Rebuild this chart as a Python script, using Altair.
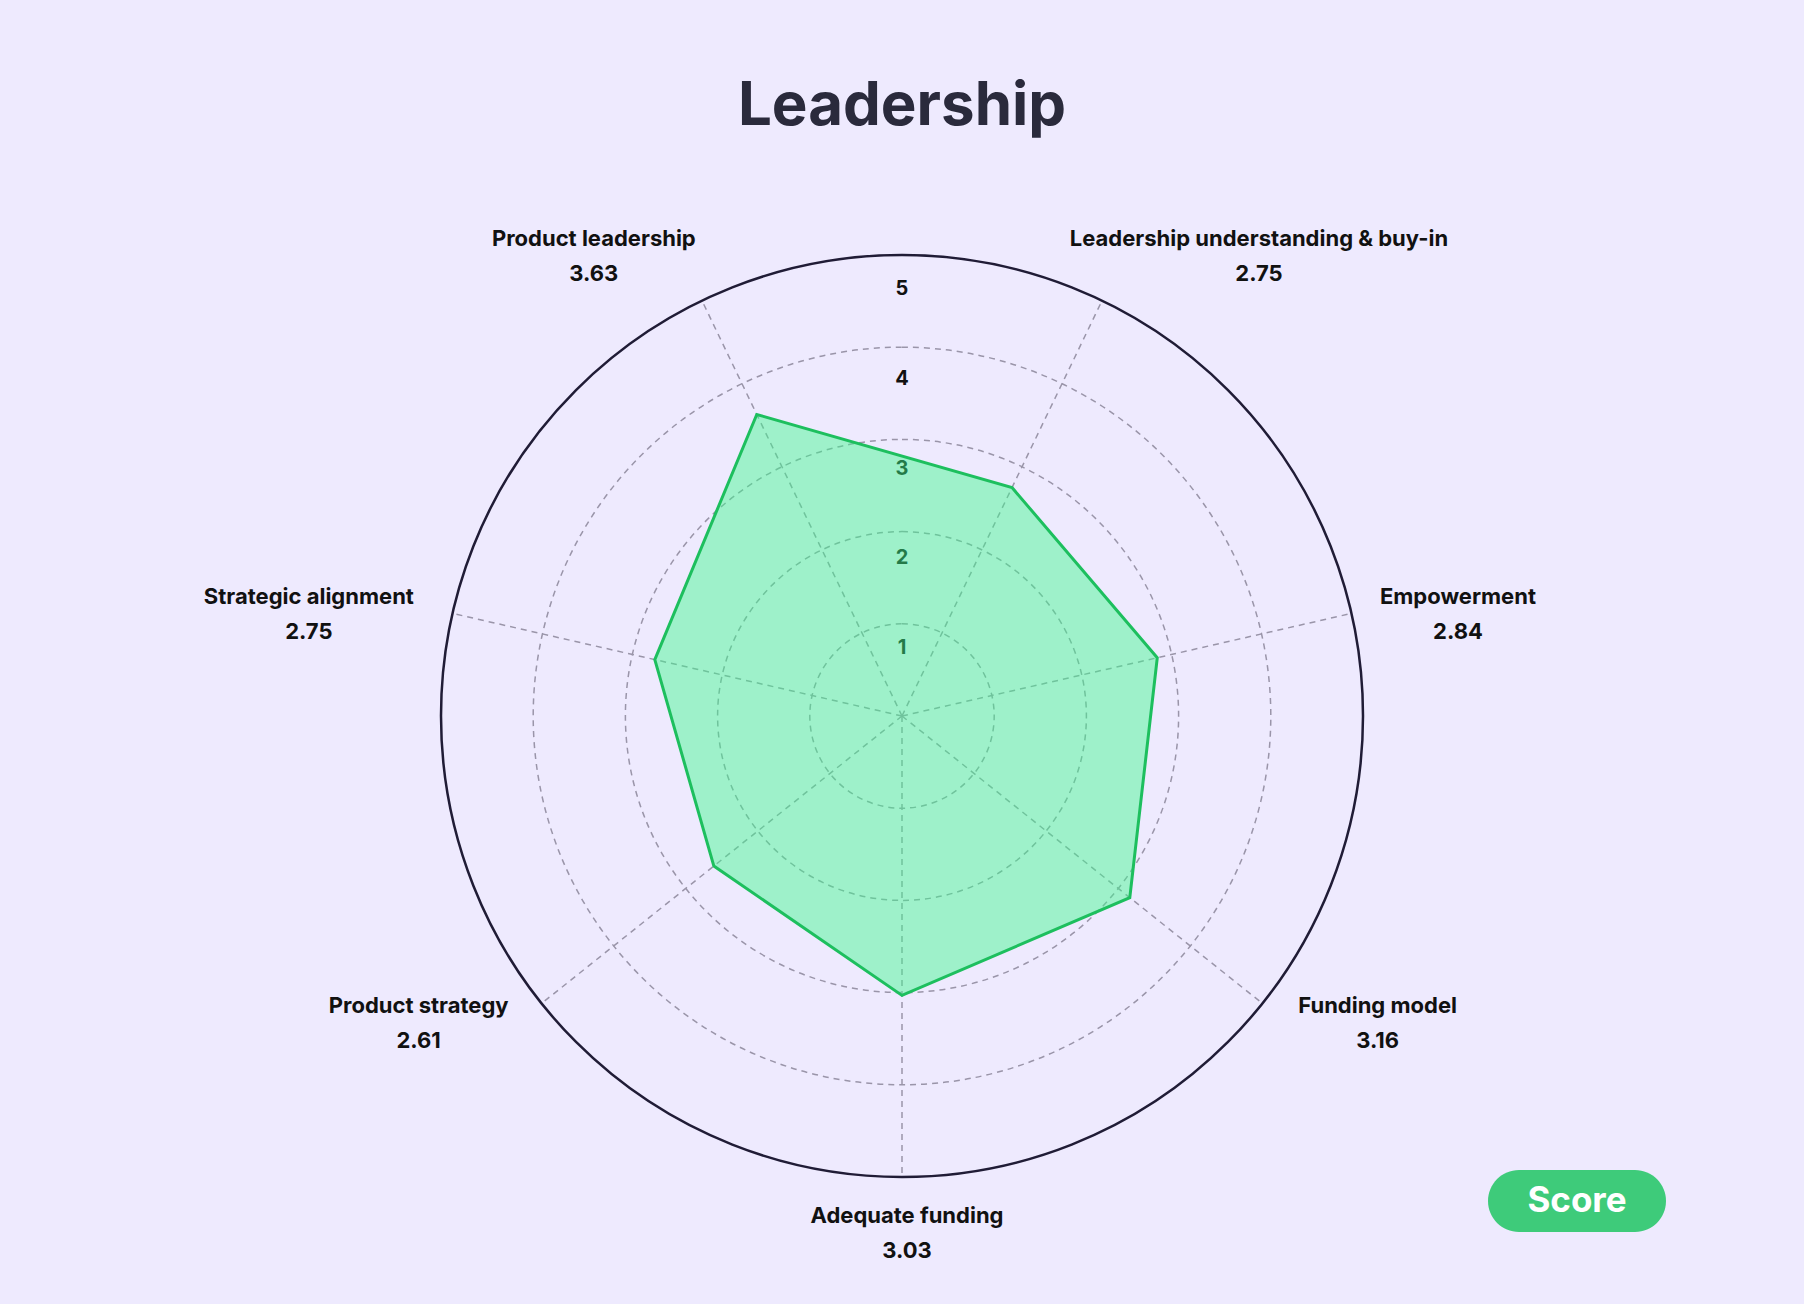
import math
import altair as alt
import pandas as pd

# ---------------- data ----------------
title_text = "Leadership"
categories = [
    "Leadership understanding & buy-in",
    "Empowerment",
    "Funding model",
    "Adequate funding",
    "Product strategy",
    "Strategic alignment",
    "Product leadership",
]
scores = [2.75, 2.84, 3.16, 3.03, 2.61, 2.75, 3.63]
rings = [1, 2, 3, 4, 5]
series = ["Score"]

# ---------------- layout ----------------
R_MAX = 5
PX = 461                 # pixel radius of the outer ring
W = 2 * PX
UNIT = PX / R_MAX        # pixels per score unit
N = len(categories)
PAD_L, PAD_T = 441, 255
PAD_R = 1804 - PAD_L - W
PAD_B = 1304 - PAD_T - W

BG = "#EEEAFE"
GRID = "#9A95A9"
FONT = "Inter"

cat_df = pd.DataFrame({"category": categories, "score": scores, "idx": list(range(N))})
ring_df = pd.DataFrame({"ring": rings})
series_df = pd.DataFrame({"series": series})

sc = alt.Scale(domain=[-R_MAX, R_MAX], nice=False, zero=False)
rscale = alt.Scale(type="linear", domain=[0, R_MAX], range=[0, PX], zero=True, nice=False)

ang_expr = f"PI/{N} + datum.idx*2*PI/{N}"

base = alt.Chart(cat_df).transform_calculate(
    ang=ang_expr
).transform_calculate(
    s="sin(datum.ang)", c="cos(datum.ang)", zero="0"
)

# grid rings (dashed)
grid = alt.Chart(ring_df).transform_filter(f"datum.ring < {R_MAX}").mark_arc(
    filled=False, theta=0, theta2=2 * math.pi, stroke=GRID, strokeWidth=1.5,
    strokeDash=[6, 5]
).encode(radius=alt.Radius("ring:Q", scale=rscale, stack=None))

outer = alt.Chart(ring_df).transform_filter(f"datum.ring == {R_MAX}").mark_arc(
    filled=False, theta=0, theta2=2 * math.pi, stroke="#201C36", strokeWidth=2.5
).encode(radius=alt.Radius("ring:Q", scale=rscale, stack=None))

# spokes
spokes = base.transform_calculate(
    xe=f"{R_MAX}*datum.s", ye=f"{R_MAX}*datum.c"
).mark_rule(stroke=GRID, strokeWidth=1.5, strokeDash=[6, 5]).encode(
    x=alt.X("zero:Q", scale=sc, axis=None),
    y=alt.Y("zero:Q", scale=sc, axis=None),
    x2="xe:Q",
    y2="ye:Q",
)

# ring tick labels
ticks = alt.Chart(ring_df).transform_calculate(
    zero="0", ty=f"(datum.ring*89.75 - 21.75)/{UNIT}"
).mark_text(font=FONT, fontSize=20, fontWeight="bold", color="#111111",
            align="center", baseline="middle").encode(
    x=alt.X("zero:Q", scale=sc, axis=None),
    y=alt.Y("ty:Q", scale=sc, axis=None),
    text="ring:Q",
)

# score polygon
poly = base.transform_calculate(
    px="datum.score*datum.s", py="datum.score*datum.c"
).mark_line(
    interpolate="linear-closed", fill="#3CFA8C", fillOpacity=0.45,
    stroke="#1DBF5E", strokeWidth=3
).encode(
    x=alt.X("px:Q", scale=sc, axis=None),
    y=alt.Y("py:Q", scale=sc, axis=None),
    order="idx:Q",
)

# category labels
lab = base.transform_calculate(
    side="datum.s > 0.1 ? 1 : (datum.s < -0.1 ? -1 : 0)"
).transform_calculate(
    extra="(datum.side != 0 && abs(datum.c) < 0.8) ? 21 : 0",
    wpx="min(length(datum.category)*11.8, 290)",
).transform_calculate(
    cxpx="477*datum.s + datum.side*(datum.extra + datum.wpx/2) + 5",
    cypx="477*datum.c + (datum.c > 0.8 ? 30 : (datum.c < -0.9 ? -40 : (datum.c < 0 ? -10 : -5)))",
).transform_calculate(
    lx=f"datum.cxpx/{UNIT}",
    ly1=f"(datum.cypx + 17.5)/{UNIT}",
    ly2=f"(datum.cypx - 17.5)/{UNIT}",
)
name_txt = lab.mark_text(font=FONT, fontSize=22, fontWeight="bold", color="#111111",
                         align="center", baseline="middle").encode(
    x=alt.X("lx:Q", scale=sc, axis=None),
    y=alt.Y("ly1:Q", scale=sc, axis=None),
    text="category:N",
)
val_txt = lab.mark_text(font=FONT, fontSize=22, fontWeight="bold", color="#111111",
                        align="center", baseline="middle").encode(
    x=alt.X("lx:Q", scale=sc, axis=None),
    y=alt.Y("ly2:Q", scale=sc, axis=None),
    text=alt.Text("score:Q", format=".2f"),
)

# legend badge
pill_h = 62 / 178
pill = (f"M {-1 + pill_h} {-pill_h} L {1 - pill_h} {-pill_h} "
        f"A {pill_h} {pill_h} 0 0 1 {1 - pill_h} {pill_h} "
        f"L {-1 + pill_h} {pill_h} A {pill_h} {pill_h} 0 0 1 {-1 + pill_h} {-pill_h} Z")
legend_layer = alt.Chart(series_df).mark_point(filled=True, size=0, opacity=1).encode(
    color=alt.Color(
        "series:N",
        scale=alt.Scale(domain=series, range=["#3ECB7A"]),
        legend=alt.Legend(
            orient="none", legendX=1047, legendY=857, title=None,
            symbolType=pill, symbolSize=178 * 178, symbolStrokeWidth=0,
            symbolOpacity=1, labelFont=FONT, labelFontSize=35,
            labelFontWeight="bold", labelColor="white", labelAlign="center",
            labelOffset={"expr": "-89"}, labelBaseline="middle", padding=0,
        ),
    )
)

chart = alt.layer(
    grid, spokes, outer, ticks, poly, name_txt, val_txt, legend_layer
).properties(
    width=W, height=W,
    autosize=alt.AutoSizeParams(type="none"),
    padding={"left": PAD_L, "top": PAD_T, "right": PAD_R, "bottom": PAD_B},
    background=BG,
    title=alt.Title(title_text, font=FONT, fontSize=60, fontWeight=700,
                    color="#2A2A3C", anchor="middle", frame="group",
                    baseline="alphabetic", offset=43),
).configure_view(stroke=None)

chart.save("out.html", embed_options={"renderer": "svg", "actions": False})
